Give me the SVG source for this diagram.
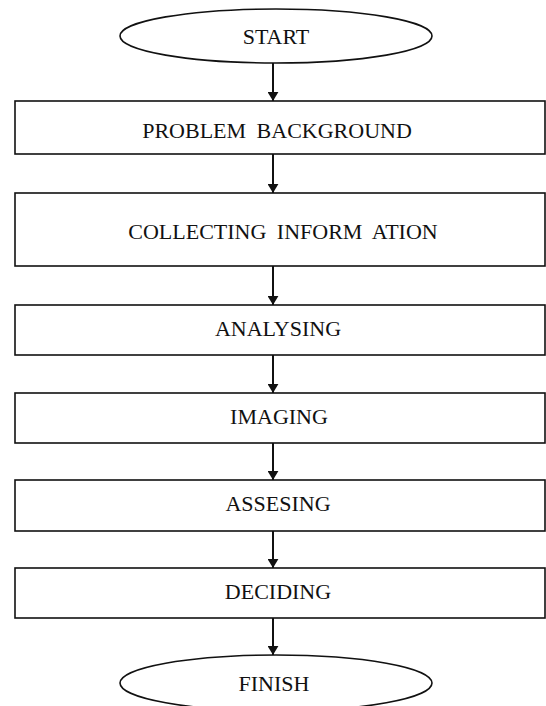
<svg xmlns="http://www.w3.org/2000/svg" width="546" height="706" viewBox="0 0 546 706">
<style>
.box{fill:#fff;stroke:#111;stroke-width:1.6}
.lbl{font-family:"Liberation Serif","Times New Roman",serif;font-size:22px;fill:#111;text-anchor:middle;word-spacing:5px}
.con{stroke:#111;stroke-width:2;fill:none}
</style>
<defs>
<marker id="ah" viewBox="0 0 10 12" refX="10" refY="6" markerWidth="9" markerHeight="11" markerUnits="userSpaceOnUse" orient="auto">
<path d="M0,0 L10,6 L0,12 Z" fill="#111"/>
</marker>
</defs>
<rect width="546" height="706" fill="#fff"/>
<g id="connectors">
<line class="con" x1="273" y1="63" x2="273" y2="101" marker-end="url(#ah)"/>
<line class="con" x1="273" y1="154" x2="273" y2="193" marker-end="url(#ah)"/>
<line class="con" x1="273" y1="266" x2="273" y2="305" marker-end="url(#ah)"/>
<line class="con" x1="273" y1="355" x2="273" y2="393" marker-end="url(#ah)"/>
<line class="con" x1="273" y1="443" x2="273" y2="480" marker-end="url(#ah)"/>
<line class="con" x1="273" y1="531" x2="273" y2="568" marker-end="url(#ah)"/>
<line class="con" x1="273" y1="618" x2="273" y2="655" marker-end="url(#ah)"/>
</g>
<g id="start">
<ellipse class="box" cx="276" cy="36" rx="156" ry="27"/>
<text class="lbl" x="276" y="44">START</text>
</g>
<g id="problem-background">
<rect class="box" x="15" y="101" width="530" height="53"/>
<text class="lbl" x="277" y="138">PROBLEM BACKGROUND</text>
</g>
<g id="collecting-information">
<rect class="box" x="15" y="193" width="530" height="73"/>
<text class="lbl" x="283" y="239">COLLECTING INFORM ATION</text>
</g>
<g id="analysing">
<rect class="box" x="15" y="305" width="530" height="50"/>
<text class="lbl" x="278" y="336">ANALYSING</text>
</g>
<g id="imaging">
<rect class="box" x="15" y="393" width="530" height="50"/>
<text class="lbl" x="279" y="424">IMAGING</text>
</g>
<g id="assesing">
<rect class="box" x="15" y="480" width="530" height="51"/>
<text class="lbl" x="278" y="511">ASSESING</text>
</g>
<g id="deciding">
<rect class="box" x="15" y="568" width="530" height="50"/>
<text class="lbl" x="278" y="599">DECIDING</text>
</g>
<g id="finish">
<ellipse class="box" cx="276" cy="683" rx="156" ry="28"/>
<text class="lbl" x="274" y="691">FINISH</text>
</g>
</svg>
